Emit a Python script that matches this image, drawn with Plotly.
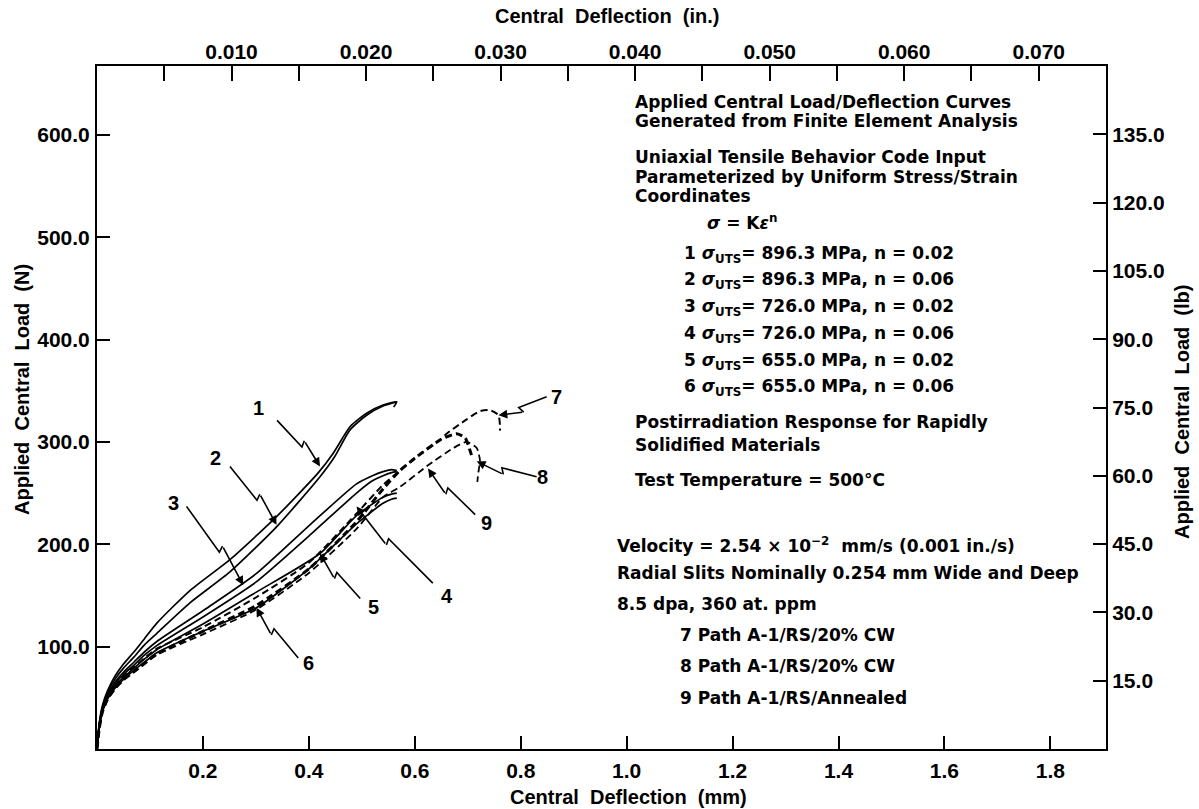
import math
import plotly.graph_objects as go

# ---------------- data (central deflection in mm, applied load in N) ----------------
c1_x = [0, 0.004, 0.010, 0.020, 0.035, 0.050, 0.070, 0.090, 0.113, 0.176, 0.251, 0.339, 0.418, 0.446, 0.478, 0.509, 0.540, 0.566, 0.560]
c1_y = [0, 24, 42, 57, 72, 83, 95, 108, 123, 155, 185, 227, 270, 289, 315, 328, 336, 339, 334]

c2_x = [0, 0.004, 0.010, 0.020, 0.035, 0.050, 0.070, 0.090, 0.113, 0.176, 0.251, 0.339, 0.421, 0.448, 0.478, 0.509, 0.540, 0.566]
c2_y = [0, 23, 40, 55, 69, 79, 90, 102, 113, 143, 173, 217, 266, 285, 312, 326, 335, 339]

c3_x = [0, 0.004, 0.010, 0.020, 0.035, 0.050, 0.070, 0.090, 0.113, 0.200, 0.300, 0.400, 0.490, 0.520, 0.540, 0.556, 0.566]
c3_y = [0, 22, 39, 53, 66, 75, 85, 95, 105, 135, 171, 218, 259, 267, 271, 273, 272]

c4_x = [0, 0.004, 0.010, 0.020, 0.035, 0.050, 0.070, 0.090, 0.113, 0.200, 0.300, 0.400, 0.490, 0.520, 0.540, 0.556, 0.566]
c4_y = [0, 21, 38, 51, 64, 73, 82, 92, 101, 129, 163, 208, 250, 262, 267, 270, 271]

c5_x = [0, 0.004, 0.010, 0.020, 0.035, 0.050, 0.070, 0.090, 0.113, 0.200, 0.300, 0.421, 0.490, 0.540, 0.556, 0.566]
c5_y = [0, 20, 37, 50, 62, 70, 79, 88, 97, 122, 153, 191, 228, 246, 249, 250]

c6_x = [0, 0.004, 0.010, 0.020, 0.035, 0.050, 0.070, 0.090, 0.113, 0.200, 0.301, 0.400, 0.490, 0.540, 0.556, 0.566]
c6_y = [0, 19, 36, 49, 60, 68, 77, 85, 94, 115, 138, 176, 220, 240, 244, 245]

c7_x = [0, 0.004, 0.010, 0.020, 0.035, 0.050, 0.070, 0.090, 0.113, 0.200, 0.300, 0.400, 0.490, 0.540, 0.572, 0.600, 0.648, 0.660, 0.698, 0.723, 0.742, 0.758, 0.761]
c7_y = [0, 20, 37, 50, 62, 71, 80, 89, 98, 119, 148, 182, 230, 258, 272, 284, 302, 308, 322, 330, 331, 326, 311]

c8_x = [0, 0.004, 0.010, 0.020, 0.035, 0.050, 0.070, 0.090, 0.113, 0.200, 0.300, 0.400, 0.490, 0.540, 0.572, 0.622, 0.673, 0.698, 0.717, 0.723, 0.720, 0.718]
c8_y = [0, 18, 35, 48, 59, 67, 75, 83, 92, 112, 136, 172, 215, 246, 256, 276, 294, 300, 294, 282, 270, 261]

c9_x = [0, 0.004, 0.010, 0.020, 0.035, 0.050, 0.070, 0.090, 0.113, 0.200, 0.300, 0.400, 0.490, 0.540, 0.572, 0.600, 0.648, 0.679, 0.695, 0.704, 0.707]
c9_y = [0, 19, 36, 49, 60, 68, 76, 84, 93, 115, 140, 176, 222, 254, 272, 284, 302, 308, 304, 292, 287]

# curve labels: number, label position, arrow start, arrow tip (mm, N)
lab_num = ["1", "2", "3", "4", "5", "6", "7", "8", "9"]
lab_pos = [(0.304, 333), (0.223, 284), (0.144, 240), (0.661, 149), (0.522, 139),
           (0.399, 84), (0.868, 344), (0.842, 266), (0.736, 221)]
arr_start = [(0.340, 321), (0.251, 276), (0.169, 237), (0.634, 162), (0.497, 147),
             (0.380, 89), (0.849, 344), (0.830, 266), (0.714, 229)]
arr_tip = [(0.421, 276), (0.339, 219), (0.276, 160), (0.490, 237), (0.421, 191),
           (0.301, 138), (0.758, 326), (0.717, 281), (0.625, 274)]

x_ticks_mm = [0.2, 0.4, 0.6, 0.8, 1.0, 1.2, 1.4, 1.6, 1.8]
y_ticks_n = [100, 200, 300, 400, 500, 600]
x_ticks_in = [0.005 * k for k in range(1, 15)]
y_ticks_lb = [15, 30, 45, 60, 75, 90, 105, 120, 135]

notes_top = [
    "Applied Central Load/Deflection Curves",
    "Generated from Finite Element Analysis",
    "Uniaxial Tensile Behavior Code Input",
    "Parameterized by Uniform Stress/Strain",
    "Coordinates",
]
uts_vals = ["896.3", "896.3", "726.0", "726.0", "655.0", "655.0"]
n_vals = ["0.02", "0.06", "0.02", "0.06", "0.02", "0.06"]
notes_mid = ["Postirradiation Response for Rapidly", "Solidified Materials",
             "Test Temperature = 500°C"]
notes_low = ["Velocity = 2.54 × 10<sup>−2</sup>  mm/s (0.001 in./s)",
             "Radial Slits Nominally 0.254 mm Wide and Deep",
             "8.5 dpa, 360 at. ppm"]
paths = ["7 Path A-1/RS/20% CW", "8 Path A-1/RS/20% CW", "9 Path A-1/RS/Annealed"]

# ---------------- layout geometry ----------------
W, H = 1199, 809
ML, MR, MT, MB = 97, 93, 66, 60
XMAX = 1.905          # mm  (0.075 in)
YMAX = 667.2          # N   (150 lb)
PW, PH = W - ML - MR, H - MT - MB
PXX, PXY = PW / XMAX, PH / YMAX

def px(xp, yp):
    return (xp - ML) / PW, (H - MB - yp) / PH

FONT = "Liberation Sans, Arial, sans-serif"
NOTE_FONT = "DejaVu Sans, Liberation Sans, sans-serif"

fig = go.Figure()

solid = [(c1_x, c1_y), (c2_x, c2_y), (c3_x, c3_y), (c4_x, c4_y), (c5_x, c5_y), (c6_x, c6_y)]
for xs, ys in solid:
    fig.add_trace(go.Scatter(x=xs, y=ys, mode="lines", line=dict(color="black", width=1.7, shape="spline", smoothing=0.6),
                             hoverinfo="skip", showlegend=False))
dashed = [(c7_x, c7_y, 2.0), (c8_x, c8_y, 1.8), (c9_x, c9_y, 3.0)]
for xs, ys, w in dashed:
    fig.add_trace(go.Scatter(x=xs, y=ys, mode="lines",
                             line=dict(color="black", width=w, dash="7px,4px", shape="spline", smoothing=0.6),
                             hoverinfo="skip", showlegend=False))

# helper trace for secondary (inch / lb) axes
fig.add_trace(go.Scatter(x=[v / 25.4 for v in c1_x], y=[v / 4.448 for v in c1_y], xaxis="x2", yaxis="y2",
                         mode="lines", line=dict(width=0, color="rgba(0,0,0,0)"), hoverinfo="skip", showlegend=False))

annotations = []

def zig(s, t, frac=0.58, jog=6.0, back=3.0):
    sx, sy = s
    tx, ty = t
    dx = (tx - sx) * PXX
    dy = -(ty - sy) * PXY
    L = math.hypot(dx, dy)
    ux, uy = dx / L, dy / L
    pxv, pyv = uy, -ux
    p1 = (frac * dx, frac * dy)
    p2 = (p1[0] + jog * pxv - back * ux, p1[1] + jog * pyv - back * uy)
    conv = lambda p: (sx + p[0] / PXX, sy - p[1] / PXY)
    a, b = conv(p1), conv(p2)
    return [sx, a[0], b[0]], [sy, a[1], b[1]], b

for num, lp, s, t in zip(lab_num, lab_pos, arr_start, arr_tip):
    xs, ys, p2 = zig(s, t)
    fig.add_trace(go.Scatter(x=xs, y=ys, mode="lines", line=dict(color="black", width=1.6),
                             hoverinfo="skip", showlegend=False))
    annotations.append(dict(x=t[0], y=t[1], ax=p2[0], ay=p2[1], xref="x", yref="y", axref="x", ayref="y",
                            text="", showarrow=True, arrowhead=2, arrowsize=1.1, arrowwidth=1.6,
                            arrowcolor="black", standoff=0))
    annotations.append(dict(x=lp[0], y=lp[1], xref="x", yref="y", text=num, showarrow=False,
                            font=dict(family=FONT, size=20, color="black", weight="bold")))

def note(text, xp, yp, size=17):
    x, y = px(xp, yp)
    annotations.append(dict(x=x, y=y, xref="paper", yref="paper", text=text, showarrow=False,
                            xanchor="left", yanchor="middle",
                            font=dict(family=NOTE_FONT, size=size, color="black", weight="bold")))

for txt, yy in zip(notes_top, [102, 121, 157, 177, 196]):
    note(txt, 633, yy)
note("<i>σ</i> = K<i>ε</i><sup>n</sup>", 705, 222)
for i, (u, n) in enumerate(zip(uts_vals, n_vals)):
    note(f"{i + 1} <i>σ</i><sub>UTS</sub>= {u} MPa, n = {n}", 682, 254 + 26.8 * i)
for txt, yy in zip(notes_mid, [422, 445, 480]):
    note(txt, 633, yy)
for txt, yy in zip(notes_low, [545, 573, 604]):
    note(txt, 615, yy)
for txt, yy in zip(paths, [635, 666, 698]):
    note(txt, 678, yy)

def title(text, xp, yp, angle=0):
    x, y = px(xp, yp)
    annotations.append(dict(x=x, y=y, xref="paper", yref="paper", text=text, showarrow=False,
                            xanchor="center", yanchor="middle", textangle=angle,
                            font=dict(family=FONT, size=20, color="black", weight="bold")))

title("Applied  Central  Load  (N)", 22, 390, -90)
title("Applied  Central  Load  (lb)", 1182, 412, -90)
title("Central  Deflection  (in.)", 607, 16)
title("Central  Deflection  (mm)", 628, 797)

tickfont = dict(family=FONT, size=21, color="black", weight="bold")
axis_common = dict(showgrid=False, zeroline=False, showline=True, linecolor="black", linewidth=2,
                   ticks="inside", tickcolor="black", tickwidth=1.5, tickfont=tickfont)

fig.update_layout(
    width=W, height=H, margin=dict(l=ML, r=MR, t=MT, b=MB, pad=0),
    paper_bgcolor="white", plot_bgcolor="white",
    xaxis=dict(range=[0, XMAX], tickvals=x_ticks_mm, ticktext=[f"{v:.1f}" for v in x_ticks_mm],
               ticklen=13, ticklabelstandoff=2, **axis_common),
    yaxis=dict(range=[0, YMAX], tickvals=y_ticks_n, ticktext=[f"{v:.1f}" for v in y_ticks_n],
               ticklen=13, ticklabelstandoff=1, **axis_common),
    xaxis2=dict(range=[0, XMAX / 25.4], overlaying="x", side="top", tickvals=x_ticks_in,
                ticktext=[f"{v:.3f}" if k % 2 == 1 else "" for k, v in enumerate(x_ticks_in)],
                ticklen=15, ticklabelstandoff=-3, **axis_common),
    yaxis2=dict(range=[0, YMAX / 4.448], overlaying="y", side="right", tickvals=y_ticks_lb,
                ticktext=[f"{v:.1f}" for v in y_ticks_lb], ticklen=13, ticklabelstandoff=0, **axis_common),
    annotations=annotations,
    showlegend=False,
)

fig.write_html("out.html", post_script="document.body.style.margin='0';",
               config={"displayModeBar": False})
